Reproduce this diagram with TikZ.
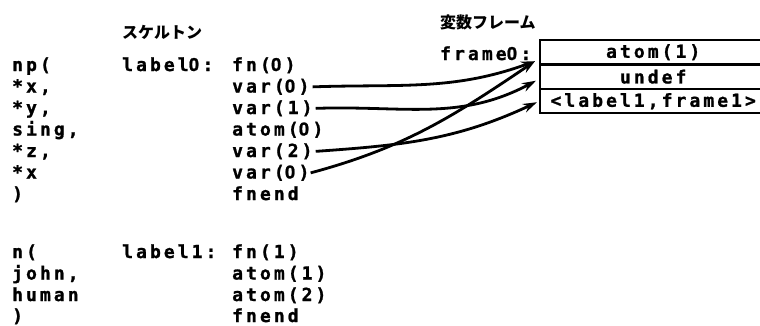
\documentclass[tikz,border=0pt]{standalone}
\usepackage{fontspec}
\newfontfamily\codefont[LetterSpace=17,BoldFeatures={FakeBold=1.2}]{DejaVu Sans Mono}
\newfontfamily\zerofont[BoldFeatures={FakeBold=1.2}]{TeX Gyre Heros}
\newfontfamily\jpfont{Noto Sans CJK JP}
\usetikzlibrary{arrows.meta}
% plain (undotted) zero set in a monospaced cell
\newcommand{\zeroglyph}{\makebox[0.602em]{\zerofont\bfseries 0}\hspace{0.17em}}

\begin{document}
\begin{tikzpicture}[x=1pt,y=-1pt,
  code/.style={anchor=base west, inner sep=0pt,
    font=\codefont\bfseries\fontsize{18}{18}\selectfont},
  heading/.style={anchor=base west, inner sep=0pt,
    font=\jpfont\bfseries\fontsize{16}{16}\selectfont},
  slot/.style={draw, line width=2.4pt, anchor=north west,
    minimum width=226pt, minimum height=24pt, inner sep=0pt,
    font=\codefont\bfseries\fontsize{18}{18}\selectfont},
  ref/.style={-{Stealth[length=14pt,width=9pt]}, line width=2.8pt}]
\useasboundingbox (0,0) rectangle (760,325);

% headings
\node[heading] (skel) at (122,38) {スケルトン};
\node[heading] (vars) at (440,28) {変数フレーム};

% source terms
\node[code] (t0)  at (12,71)    {np(};
\node[code] (t1)  at (12,92.5)  {*x,};
\node[code] (t2)  at (12,114)   {*y,};
\node[code] (t3)  at (12,135.5) {sing,};
\node[code] (t4)  at (12,157)   {*z,};
\node[code] (t5)  at (12,178.5) {*x};
\node[code] (t6)  at (12,200)   {)};
\node[code] (u0)  at (12,258)   {n(};
\node[code] (u1)  at (12,279.5) {john,};
\node[code] (u2)  at (12,301)   {human};
\node[code] (u3)  at (12,322)   {)};

% skeleton code
\node[code] (lab0) at (122,71)  {label\zeroglyph:};
\node[code] (c0) at (232,71)    {fn(\zeroglyph)};
\node[code] (c1) at (232,92.5)  {var(\zeroglyph)};
\node[code] (c2) at (232,114)   {var(1)};
\node[code] (c3) at (232,135.5) {atom(\zeroglyph)};
\node[code] (c4) at (232,157)   {var(2)};
\node[code] (c5) at (232,178.5) {var(\zeroglyph)};
\node[code] (c6) at (232,200)   {fnend};
\node[code] (lab1) at (122,258) {label1:};
\node[code] (d0) at (232,258)   {fn(1)};
\node[code] (d1) at (232,279.5) {atom(1)};
\node[code] (d2) at (232,301)   {atom(2)};
\node[code] (d3) at (232,322)   {fnend};

% variable frame
\node[code] (fr0) at (440,60) {frame\zeroglyph:};
\node[slot] (s0) at (539,39) {atom(1)};
\node[slot] (s1) at (539,63.5) {undef};
\node[slot] (s2) at (539,88) {<label1,frame1>};

% variable references
\draw[ref] ([xshift=3pt]c1.east) to[out=2,in=200]
  ([xshift=-4pt,yshift=-9pt]s0.west);
\draw[ref] ([xshift=3pt]c2.east) to[out=2,in=208]
  ([xshift=-3pt,yshift=-4pt]s1.west);
\draw[ref] ([xshift=3pt]c4.east) to[out=4,in=205]
  ([xshift=-2pt,yshift=-1pt]s2.west);
\draw[ref] ([xshift=1pt]c5.east) to[out=15,in=214]
  ([xshift=-4pt,yshift=-9pt]s0.west);
\end{tikzpicture}
\end{document}
